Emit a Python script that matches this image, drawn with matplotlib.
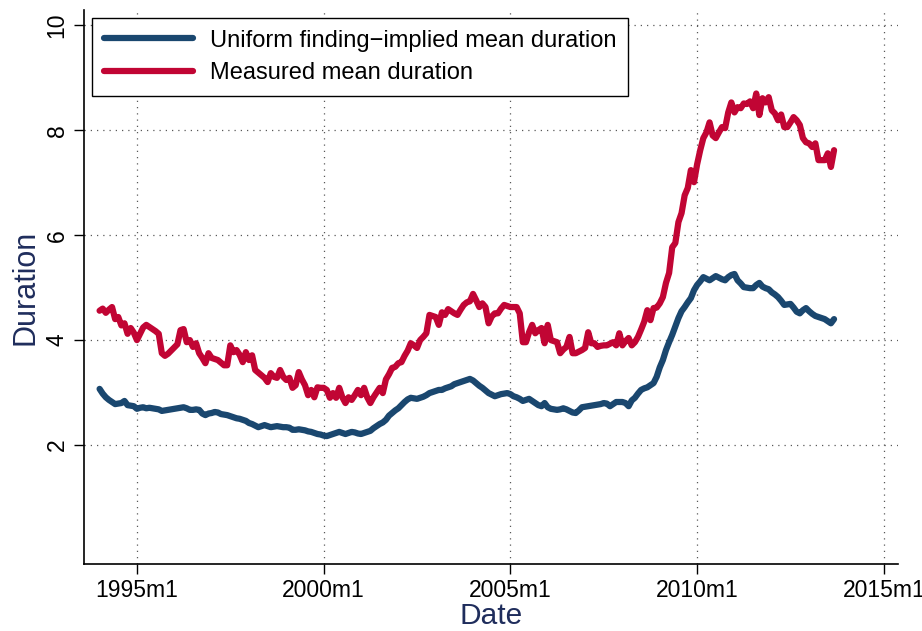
import numpy as np
import pandas as pd
import matplotlib
matplotlib.use("Agg")
import matplotlib.pyplot as plt

plt.rcParams['font.family'] = ['Liberation Sans', 'DejaVu Sans']

# monthly, 1994m1 - 2013m9
months = pd.period_range('1994-01', '2013-09', freq='M')

measured = [
    4.56, 4.60, 4.52, 4.58, 4.63, 4.40, 4.44, 4.28, 4.32, 4.12, 4.23, 4.14,  # 1994
    4.00, 4.12, 4.24, 4.29, 4.25, 4.21, 4.17, 4.12, 3.75, 3.70, 3.74, 3.80,  # 1995
    3.86, 3.92, 4.19, 4.21, 3.96, 4.00, 3.87, 3.94, 3.75, 3.66, 3.56, 3.75,  # 1996
    3.66, 3.64, 3.62, 3.57, 3.52, 3.52, 3.90, 3.77, 3.81, 3.72, 3.58, 3.77,  # 1997
    3.62, 3.71, 3.43, 3.38, 3.33, 3.28, 3.20, 3.37, 3.30, 3.28, 3.43, 3.30,  # 1998
    3.24, 3.28, 3.09, 3.14, 3.39, 3.25, 3.14, 2.95, 3.05, 2.91, 3.10, 3.09,  # 1999
    3.09, 3.05, 2.90, 2.99, 2.90, 3.09, 2.91, 2.80, 2.91, 2.86, 2.95, 3.05,  # 2000
    2.95, 3.09, 2.91, 2.80, 2.91, 3.00, 3.09, 2.99, 3.25, 3.35, 3.47, 3.49,  # 2001
    3.56, 3.58, 3.70, 3.80, 3.94, 3.90, 3.85, 4.00, 4.06, 4.13, 4.48, 4.46,  # 2002
    4.44, 4.29, 4.53, 4.48, 4.59, 4.55, 4.51, 4.48, 4.58, 4.67, 4.72, 4.74,  # 2003
    4.88, 4.76, 4.63, 4.70, 4.63, 4.32, 4.45, 4.51, 4.51, 4.60, 4.67, 4.65,  # 2004
    4.63, 4.63, 4.63, 4.51, 3.96, 3.96, 4.15, 4.29, 4.13, 4.19, 4.23, 3.94,  # 2005
    4.29, 4.00, 3.98, 3.96, 3.75, 3.82, 3.87, 4.06, 3.75, 3.75, 3.78, 3.81,  # 2006
    3.85, 4.15, 3.94, 3.94, 3.87, 3.89, 3.90, 3.90, 3.93, 3.96, 3.90, 4.13,  # 2007
    3.90, 3.98, 4.04, 3.90, 3.96, 4.06, 4.20, 4.35, 4.57, 4.38, 4.61, 4.62,  # 2008
    4.70, 4.82, 5.09, 5.28, 5.77, 5.85, 6.25, 6.42, 6.76, 6.90, 7.24, 7.01,  # 2009
    7.35, 7.62, 7.85, 7.96, 8.15, 7.90, 7.85, 7.96, 8.06, 8.04, 8.34, 8.53,  # 2010
    8.34, 8.44, 8.42, 8.51, 8.50, 8.55, 8.42, 8.70, 8.29, 8.61, 8.53, 8.63,  # 2011
    8.38, 8.32, 8.19, 8.30, 8.06, 8.06, 8.15, 8.25, 8.19, 8.10, 7.85, 7.77,  # 2012
    7.75, 7.68, 7.75, 7.43, 7.43, 7.43, 7.56, 7.30, 7.62,                    # 2013
]

implied = [
    3.07, 2.98, 2.91, 2.86, 2.82, 2.78, 2.79, 2.80, 2.84, 2.76, 2.75, 2.74,  # 1994
    2.69, 2.71, 2.72, 2.70, 2.71, 2.70, 2.69, 2.68, 2.65, 2.66, 2.67, 2.68,  # 1995
    2.69, 2.70, 2.71, 2.72, 2.70, 2.67, 2.67, 2.68, 2.67, 2.60, 2.57, 2.60,  # 1996
    2.61, 2.63, 2.62, 2.59, 2.58, 2.57, 2.55, 2.53, 2.51, 2.50, 2.48, 2.46,  # 1997
    2.42, 2.40, 2.37, 2.34, 2.36, 2.38, 2.36, 2.34, 2.35, 2.36, 2.35, 2.34,  # 1998
    2.34, 2.33, 2.29, 2.29, 2.30, 2.29, 2.28, 2.26, 2.25, 2.23, 2.21, 2.20,  # 1999
    2.18, 2.17, 2.19, 2.21, 2.23, 2.25, 2.23, 2.21, 2.23, 2.25, 2.24, 2.22,  # 2000
    2.21, 2.23, 2.25, 2.27, 2.32, 2.36, 2.40, 2.43, 2.48, 2.56, 2.61, 2.66,  # 2001
    2.70, 2.76, 2.82, 2.87, 2.90, 2.89, 2.88, 2.90, 2.92, 2.95, 2.99, 3.01,  # 2002
    3.03, 3.05, 3.05, 3.08, 3.10, 3.12, 3.16, 3.18, 3.20, 3.22, 3.24, 3.26,  # 2003
    3.23, 3.18, 3.13, 3.09, 3.04, 2.99, 2.96, 2.93, 2.95, 2.97, 2.98, 2.99,  # 2004
    2.97, 2.93, 2.91, 2.88, 2.84, 2.86, 2.88, 2.84, 2.80, 2.76, 2.74, 2.80,  # 2005
    2.72, 2.69, 2.68, 2.67, 2.68, 2.70, 2.68, 2.65, 2.62, 2.61, 2.66, 2.72,  # 2006
    2.73, 2.74, 2.75, 2.76, 2.77, 2.78, 2.80, 2.79, 2.74, 2.78, 2.82, 2.82,  # 2007
    2.82, 2.80, 2.74, 2.85, 2.90, 2.98, 3.05, 3.08, 3.10, 3.14, 3.18, 3.30,  # 2008
    3.48, 3.62, 3.81, 3.96, 4.10, 4.26, 4.42, 4.55, 4.63, 4.72, 4.80, 4.95,  # 2009
    5.05, 5.12, 5.20, 5.17, 5.14, 5.18, 5.22, 5.19, 5.16, 5.14, 5.20, 5.24,  # 2010
    5.26, 5.14, 5.08, 5.01, 5.00, 4.99, 4.99, 5.05, 5.09, 5.02, 4.99, 4.97,  # 2011
    4.91, 4.87, 4.82, 4.75, 4.67, 4.68, 4.69, 4.62, 4.54, 4.51, 4.57, 4.61,  # 2012
    4.55, 4.50, 4.46, 4.44, 4.42, 4.40, 4.36, 4.32, 4.40,                    # 2013
]

tick_years = [1995, 2000, 2005, 2010, 2015]
tick_labels = [f"{y}m1" for y in tick_years]
y_ticks = [2, 4, 6, 8, 10]

t = months.year + (months.month - 1) / 12.0

blue = '#1a476f'
red = '#c10534'
navy_text = '#1f2d5c'

fig = plt.figure(figsize=(9.22, 6.31), dpi=100)
ax = fig.add_axes([0.091, 0.106, 0.883, 0.878])

ax.plot(t, implied, color=blue, lw=4.5, solid_joinstyle='round', solid_capstyle='round',
        label='Uniform finding\u2212implied mean duration')
ax.plot(t, measured, color=red, lw=4.5, solid_joinstyle='round', solid_capstyle='round',
        label='Measured mean duration')

ax.set_xlim(1993.58, 2015.38)
ax.set_ylim(-0.27, 10.29)
ax.set_xticks(tick_years)
ax.set_xticklabels(tick_labels)
ax.set_yticks(y_ticks)
ax.set_yticklabels([str(v) for v in y_ticks], rotation=90, va='center')

ax.grid(True, color='0.35', linestyle=(0, (1, 4)), linewidth=0.9)
ax.set_axisbelow(True)

for s in ['top', 'right']:
    ax.spines[s].set_visible(False)
for s in ['left', 'bottom']:
    ax.spines[s].set_linewidth(1.2)

ax.tick_params(axis='both', direction='out', length=7, width=1.0, labelsize=16.5, pad=4)

ax.set_xlabel('Date', fontsize=21.5, color=navy_text, labelpad=0)
ax.set_ylabel('Duration', fontsize=22, color=navy_text, labelpad=4)

leg = ax.legend(loc='upper left', bbox_to_anchor=(0.0098, 0.986), fontsize=17,
                frameon=True, fancybox=False, edgecolor='black', framealpha=1,
                handlelength=3.8, handletextpad=0.7, labelspacing=0.45,
                borderpad=0.5, borderaxespad=0)
leg.get_frame().set_linewidth(1.0)

fig.savefig('out.png', dpi=100)
